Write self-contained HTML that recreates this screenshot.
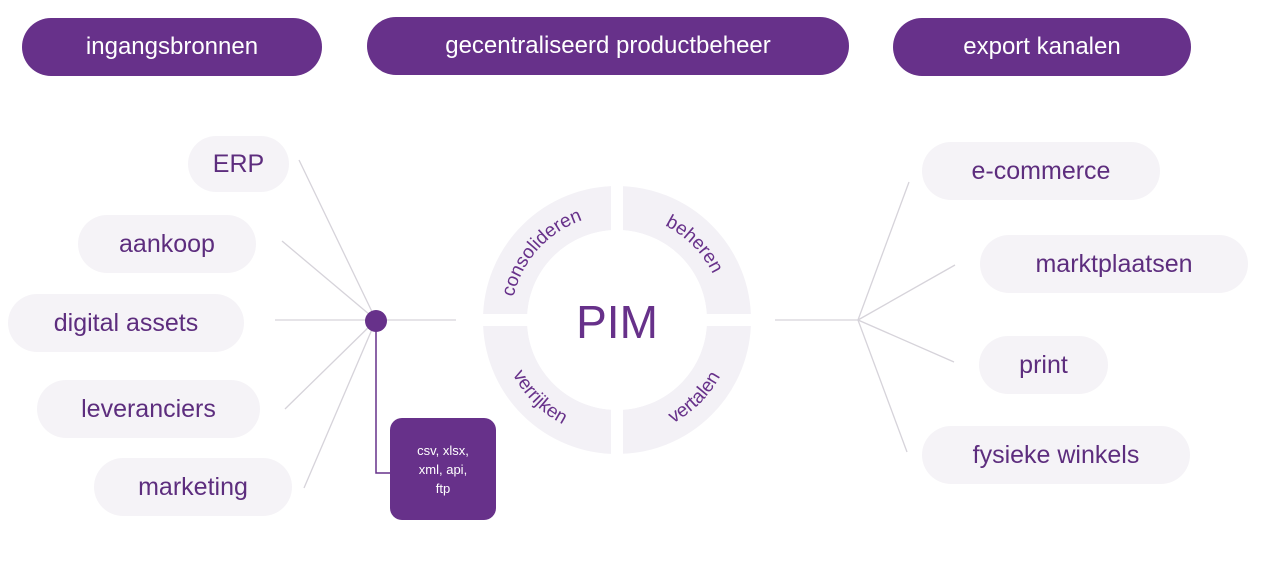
<!DOCTYPE html>
<html><head><meta charset="utf-8"><style>
body{margin:0;width:1277px;height:572px;background:#fff;overflow:hidden;position:relative;font-family:"Liberation Sans",sans-serif}
.h{position:absolute;background:#67318a;color:#fff;border-radius:30px;display:flex;align-items:center;justify-content:center;font-size:24px}
.p{position:absolute;background:#f5f3f7;color:#5d2d7e;border-radius:29px;display:flex;align-items:center;justify-content:center;font-size:25px}
</style></head><body>
<div class="h" style="left:22px;top:18px;width:300px;height:58px">ingangsbronnen</div>
<div class="h" style="left:367px;top:17px;width:482px;height:58px">gecentraliseerd productbeheer</div>
<div class="h" style="left:893px;top:18px;width:298px;height:58px">export kanalen</div>
<svg width="1277" height="572" style="position:absolute;left:0;top:0">
<g stroke="#d6d3da" stroke-width="1.3">
<line x1="299" y1="160" x2="376" y2="320"/><line x1="282" y1="241" x2="376" y2="320"/>
<line x1="275" y1="320" x2="456" y2="320"/><line x1="285" y1="409" x2="376" y2="320"/>
<line x1="304" y1="488" x2="376" y2="320"/>
<line x1="775" y1="320" x2="858" y2="320"/><line x1="858" y1="320" x2="909" y2="182"/>
<line x1="858" y1="320" x2="955" y2="265"/><line x1="858" y1="320" x2="954" y2="362"/>
<line x1="858" y1="320" x2="907" y2="452"/>
</g>
<polyline points="376,320 376,473 392,473" fill="none" stroke="#67318a" stroke-width="1.5"/>
<circle cx="376" cy="321" r="11" fill="#67318a"/>
<circle cx="617" cy="320" r="112" fill="none" stroke="#f3f1f6" stroke-width="44"/>
<rect x="480" y="314" width="275" height="12" fill="#fff"/>
<rect x="611" y="180" width="12" height="280" fill="#fff"/>
<circle cx="617" cy="320" r="90" fill="#fff"/>
<defs>
<path id="a1" d="M511,320 A106,106 0 0 1 605,215"/>
<path id="a2" d="M629,215 A106,106 0 0 1 723,310"/>
<path id="a3" d="M500,330 A117,117 0 0 0 607,437"/>
<path id="a4" d="M627,437 A117,117 0 0 0 734,330"/>
</defs>
<g fill="#67318a" font-size="19" font-family="Liberation Sans,sans-serif">
<text><textPath href="#a1" startOffset="50%" text-anchor="middle">consolideren</textPath></text>
<text><textPath href="#a2" startOffset="50%" text-anchor="middle">beheren</textPath></text>
<text><textPath href="#a3" startOffset="50%" text-anchor="middle">verrijken</textPath></text>
<text><textPath href="#a4" startOffset="50%" text-anchor="middle">vertalen</textPath></text>
</g>
<text x="617" y="338" text-anchor="middle" font-size="46" fill="#67318a" font-family="Liberation Sans,sans-serif">PIM</text>
</svg>
<div class="p" style="left:188px;top:136px;width:101px;height:56px">ERP</div>
<div class="p" style="left:78px;top:215px;width:178px;height:58px">aankoop</div>
<div class="p" style="left:8px;top:294px;width:236px;height:58px">digital assets</div>
<div class="p" style="left:37px;top:380px;width:223px;height:58px">leveranciers</div>
<div class="p" style="left:94px;top:458px;width:198px;height:58px">marketing</div>
<div class="p" style="left:922px;top:142px;width:238px;height:58px">e-commerce</div>
<div class="p" style="left:980px;top:235px;width:268px;height:58px">marktplaatsen</div>
<div class="p" style="left:979px;top:336px;width:129px;height:58px">print</div>
<div class="p" style="left:922px;top:426px;width:268px;height:58px">fysieke winkels</div>
<div style="position:absolute;left:390px;top:418px;width:106px;height:102px;background:#67318a;border-radius:12px;color:#fff;font-size:13px;line-height:19px;text-align:center;display:flex;align-items:center;justify-content:center">csv, xlsx,<br>xml, api,<br>ftp</div>
</body></html>
